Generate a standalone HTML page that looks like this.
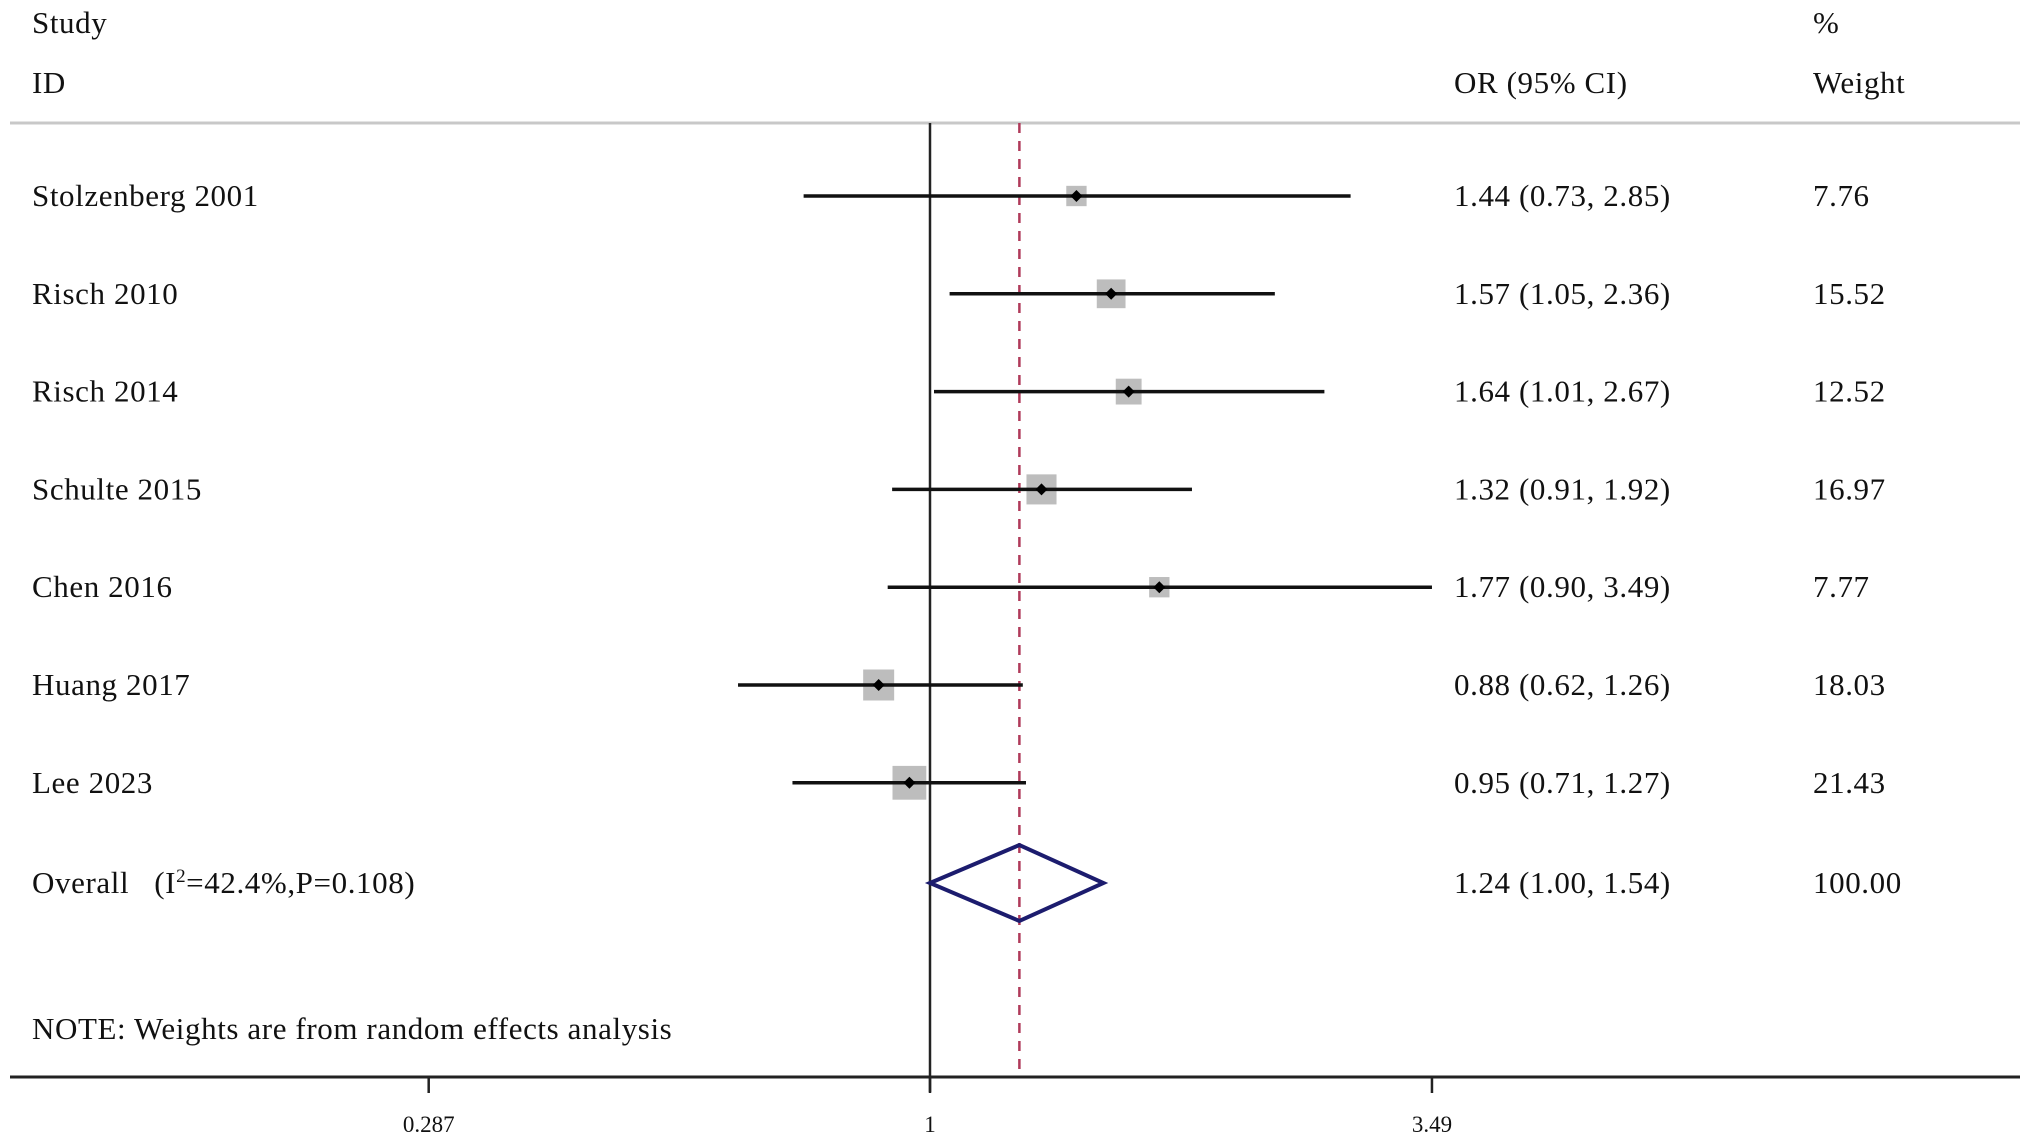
<!DOCTYPE html>
<html><head><meta charset="utf-8"><style>
html,body{margin:0;padding:0;background:#fff;}
svg{display:block;}
text{font-family:"Liberation Serif",serif;fill:#111;}
</style></head><body>
<svg id="chart" width="2031" height="1144" viewBox="0 0 2031 1144" xmlns="http://www.w3.org/2000/svg">
<text x="32" y="33" font-size="31" letter-spacing="0.6">Study</text>
<text x="32" y="93" font-size="31" letter-spacing="0.6">ID</text>
<text x="1454" y="93" font-size="31" letter-spacing="0.6">OR (95% CI)</text>
<text x="1813" y="33" font-size="31" letter-spacing="0.6">%</text>
<text x="1813" y="93" font-size="31" letter-spacing="0.6">Weight</text>
<line x1="10" y1="123" x2="2020" y2="123" stroke="#c8c8c8" stroke-width="3"/>
<g id="marks"></g>
<text x="32" y="893" font-size="31" letter-spacing="0.6" xml:space="preserve" style="white-space:pre">Overall   (I<tspan font-size="19" dy="-11">2</tspan><tspan dy="11">=42.4%,P=0.108)</tspan></text>
<text x="32" y="1039" font-size="31" letter-spacing="0.6">NOTE: Weights are from random effects analysis</text>
<line x1="10" y1="1077" x2="2020" y2="1077" stroke="#222" stroke-width="3"/>
</svg>
<script>
const studies = ["Stolzenberg 2001","Risch 2010","Risch 2014","Schulte 2015","Chen 2016","Huang 2017","Lee 2023"];
const orVals = [1.44,1.57,1.64,1.32,1.77,0.88,0.95];
const lowVals = [0.73,1.05,1.01,0.91,0.90,0.62,0.71];
const highVals = [2.85,2.36,2.67,1.92,3.49,1.26,1.27];
const weights = [7.76,15.52,12.52,16.97,7.77,18.03,21.43];
const overall = [1.24,1.00,1.54];
const overallWeight = "100.00";
const ticks = [0.287,1,3.49];
const tickLabels = ["0.287","1","3.49"];

const NS="http://www.w3.org/2000/svg";
const g=document.getElementById('marks');
const x0=930, pxPerLn=401.6;
function xs(v){return x0+Math.log(v)*pxPerLn;}
function rowY(i){return 196+i*97.8;}
function mk(tag,attrs,parent){const e=document.createElementNS(NS,tag);for(const k in attrs)e.setAttribute(k,attrs[k]);(parent||g).appendChild(e);return e;}
const fmt=v=>v.toFixed(2);

const refl=mk('line',{x1:xs(1),y1:123,x2:xs(1),y2:1092,stroke:'#222','stroke-width':2.5});


const dl=mk('line',{x1:xs(overall[0])+3,y1:123,x2:xs(overall[0])+3,y2:1077,stroke:'#b03a5a','stroke-width':2.5,'stroke-dasharray':'10 8'});



studies.forEach((s,i)=>{
  const y=rowY(i);
  const lab=mk('text',{x:32,y:y+10,'font-size':31,'letter-spacing':0.6});
  lab.textContent=s;
  
  
  const side=7.3*Math.sqrt(weights[i]);
  const sq=mk('rect',{x:xs(orVals[i])-side/2,y:y-side/2,width:side,height:side,fill:'#bdbdbd'});
  
  
  const ci=mk('line',{x1:xs(lowVals[i]),y1:y,x2:xs(highVals[i]),y2:y,stroke:'#111','stroke-width':3.5});
  
  
  const px=xs(orVals[i]);
  const dot=mk('polygon',{points:`${px-6},${y} ${px},${y-6} ${px+6},${y} ${px},${y+6}`,fill:'#000'});
  
  
  const ot=mk('text',{x:1454,y:y+10,'font-size':31,'letter-spacing':0.6});
  ot.textContent=`${fmt(orVals[i])} (${fmt(lowVals[i])}, ${fmt(highVals[i])})`;
  
  
  const wt=mk('text',{x:1813,y:y+10,'font-size':31,'letter-spacing':0.6});
  wt.textContent=fmt(weights[i]);
  
  
});

const oy=883;
const dm=mk('polygon',{points:`${xs(overall[1])},${oy} ${xs(overall[0])+3},${oy-38} ${xs(overall[2])},${oy} ${xs(overall[0])+3},${oy+38}`,fill:'none',stroke:'#1c1c6e','stroke-width':4});


const oot=mk('text',{x:1454,y:oy+10,'font-size':31,'letter-spacing':0.6});
oot.textContent=`${fmt(overall[0])} (${fmt(overall[1])}, ${fmt(overall[2])})`;


const owt=mk('text',{x:1813,y:oy+10,'font-size':31,'letter-spacing':0.6});
owt.textContent=overallWeight;



ticks.forEach((t,i)=>{
  const tl=mk('line',{x1:xs(t),y1:1077,x2:xs(t),y2:1093,stroke:'#222','stroke-width':2.5});
  
  
  const tx=mk('text',{x:xs(t),y:1132,'font-size':23,'text-anchor':'middle'});
  tx.textContent=tickLabels[i];
  
  
});
</script>
</body></html>
